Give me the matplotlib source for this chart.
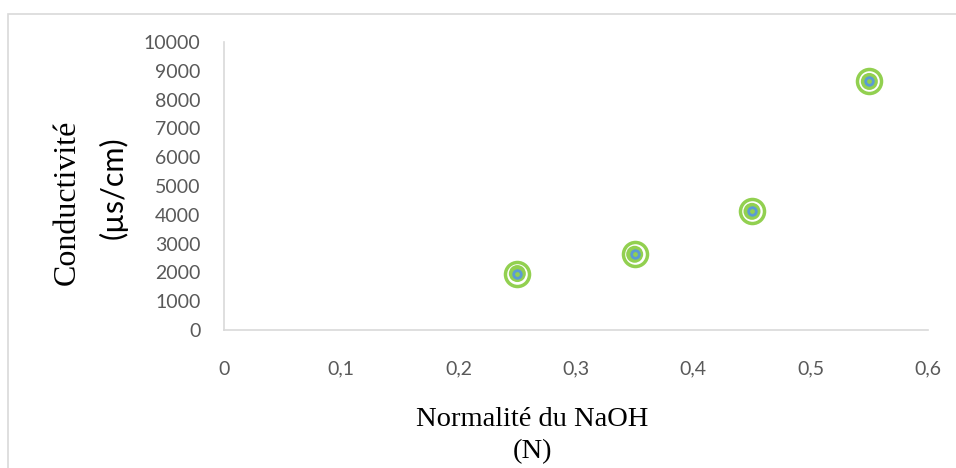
import matplotlib
matplotlib.use('Agg')
import matplotlib.pyplot as plt
from matplotlib.patches import Rectangle

# Data
normalite = [0.25, 0.35, 0.45, 0.55]
conductivite = [1960, 2630, 4120, 8630]

xticks = [0, 0.1, 0.2, 0.3, 0.4, 0.5, 0.6]
xticklabels = ['0', '0,1', '0,2', '0,3', '0,4', '0,5', '0,6']
yticks = list(range(0, 10001, 1000))

green = '#92d050'
blue = '#5b9bd5'
grey_line = '#d9d9d9'
grey_text = '#595959'

fig = plt.figure(figsize=(9.56, 4.68), dpi=100)
# chart-area border (right and bottom edges fall outside the picture)
fig.patches.append(Rectangle((8/956, -0.1), 1.0, 1.1 - 14/468, transform=fig.transFigure,
                             fill=False, edgecolor=grey_line, linewidth=1.2))

ax = fig.add_axes([224/956, 138/468, 704/956, 288/468])
ax.set_xlim(0, 0.6)
ax.set_ylim(0, 10000)

# Layered markers: outer ring, white gap, green disc, blue ring, green centre
ax.scatter(normalite, conductivite, s=300, facecolor='white', edgecolor=green, linewidth=2.5, zorder=3)
ax.scatter(normalite, conductivite, s=150, facecolor=green, edgecolor='none', zorder=4)
ax.scatter(normalite, conductivite, s=30, facecolor=green, edgecolor=blue, linewidth=2, zorder=5)

for side in ['top', 'right']:
    ax.spines[side].set_visible(False)
for side in ['left', 'bottom']:
    ax.spines[side].set_color(grey_line)
    ax.spines[side].set_linewidth(1.2)

ax.set_xticks(xticks)
ax.set_xticklabels(xticklabels)
ax.set_yticks(yticks)
ax.tick_params(axis='both', length=0, labelsize=14, labelcolor=grey_text)
ax.tick_params(axis='x', pad=22)
ax.tick_params(axis='y', pad=17)
for lab in ax.get_xticklabels() + ax.get_yticklabels():
    lab.set_family('Lato')

fig.text(67/956, 1 - 202/468, 'Conductivité', rotation=90, ha='center', va='center',
         family='Liberation Serif', fontsize=23)
fig.text(113/956, 1 - 188/468, '(µs/cm)', rotation=90, ha='center', va='center',
         family='Lato', fontsize=22)
fig.text(532/956, 1 - 420/468, 'Normalité du NaOH', ha='center', va='center',
         family='Liberation Serif', fontsize=20.5)
fig.text(532/956, 1 - 452/468, '(N)', ha='center', va='center',
         family='Liberation Serif', fontsize=20.5)

plt.savefig('out.png', dpi=100)
